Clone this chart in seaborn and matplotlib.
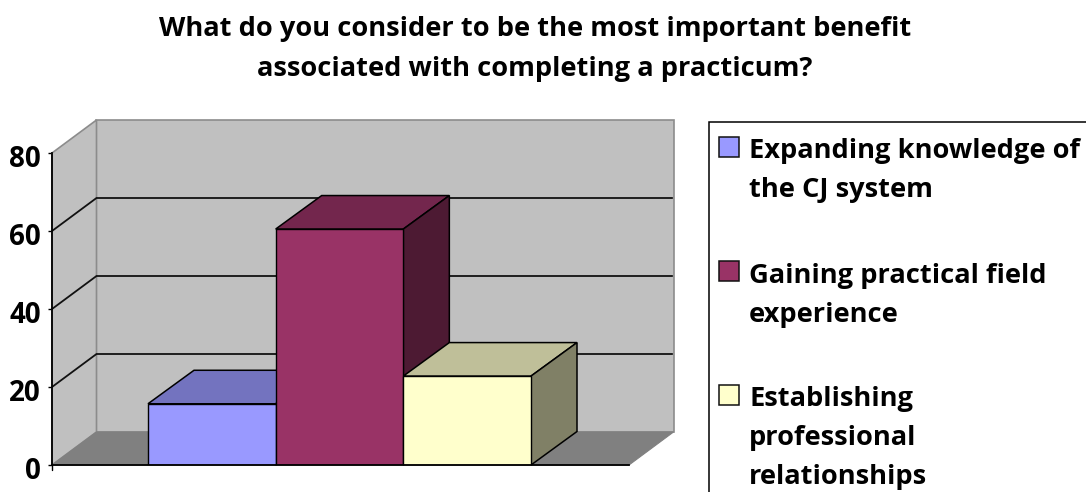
import numpy as np
import pandas as pd
import matplotlib
matplotlib.use("Agg")
import matplotlib.pyplot as plt
from matplotlib.patches import Polygon, Rectangle
from matplotlib.transforms import ScaledTranslation
from matplotlib.colors import to_rgb
import seaborn as sns

title_lines = ["What do you consider to be the most important benefit",
               "associated with completing a practicum?"]
categories = ["Expanding knowledge of\nthe CJ system",
              "Gaining practical field\nexperience",
              "Establishing\nprofessional\nrelationships"]
values = [15.7, 60.5, 22.8]
colors = ["#9999FF", "#993366", "#FFFFCC"]
y_ticks = [0, 20, 40, 60, 80]

W, H = 1086, 492
sns.set_theme(style="white")
FONT = ["Open Sans", "DejaVu Sans"]
plt.rcParams["font.family"] = FONT
plt.rcParams["font.weight"] = "bold"

fig = plt.figure(figsize=(W / 100, H / 100), dpi=100, facecolor="white")

def fx(x):
    return x / W
def fy(y):
    return 1 - y / H

ax = fig.add_axes([fx(52), fy(465), fx(629 - 52), (465 - 153) / H])
ax.patch.set_alpha(0)

df = pd.DataFrame({"category": categories, "value": values})
sns.barplot(data=df, x="category", y="value", hue="category",
            palette=colors, hue_order=categories, width=1.0, legend=False,
            edgecolor="black", linewidth=1.0, saturation=1, ax=ax, zorder=10)

unit = (531 - 148) / 3
x0 = -0.5 - (148 - 52) / unit
x1 = -0.5 + (629 - 148) / unit
ax.set_xlim(x0, x1)
ax.set_ylim(0, 80)
dx = 44.5 / unit
dy = 33 / 3.9
bar_dx = 46 / unit
bar_dy = 33.5 / 3.9

wall = "#C0C0C0"
edge = "#8C8C8C"
ax.add_patch(Polygon([(x0 + dx, dy), (x1 + dx, dy), (x1 + dx, 80 + dy), (x0 + dx, 80 + dy)],
                     fc=wall, ec=edge, lw=1.2, clip_on=False, zorder=1))
ax.add_patch(Polygon([(x0, 0), (x0 + dx, dy), (x0 + dx, 80 + dy), (x0, 80)],
                     fc=wall, ec=edge, lw=1.2, clip_on=False, zorder=1))
ax.add_patch(Polygon([(x0, 0), (x0 + dx, dy), (x1 + dx, dy), (x1, 0)],
                     fc="#808080", ec="#808080", lw=0.8, clip_on=False, zorder=2))

for t in y_ticks[1:-1]:
    ax.plot([x0, x0 + dx, x1 + dx - 0.01], [t, t + dy, t + dy], color="#111111", lw=1.3,
            clip_on=False, zorder=3, solid_joinstyle="miter")

bars = sorted([p for p in ax.patches if isinstance(p, Rectangle)], key=lambda p: p.get_x())
for i, bar in enumerate(bars):
    l, w, h = bar.get_x(), bar.get_width(), bar.get_height()
    c = np.array(to_rgb(colors[i]))
    z = 10 + i * 2
    bar.set_zorder(z + 1)
    ax.add_patch(Polygon([(l, h), (l + bar_dx, h + bar_dy), (l + w + bar_dx, h + bar_dy), (l + w, h)],
                         fc=c * 0.75, ec="black", lw=1.1, clip_on=False, zorder=z))
    ax.add_patch(Polygon([(l + w, 0), (l + w + bar_dx, bar_dy), (l + w + bar_dx, h + bar_dy), (l + w, h)],
                         fc=c * 0.5, ec="black", lw=1.1, clip_on=False, zorder=z))

for s in ["top", "right"]:
    ax.spines[s].set_visible(False)
for s in ["left", "bottom"]:
    ax.spines[s].set_visible(True)
    ax.spines[s].set_color("black")
    ax.spines[s].set_linewidth(1.3)
    ax.spines[s].set_zorder(30)
ax.set_xticks([])
ax.set_xlabel("")
ax.set_ylabel("")
ax.set_yticks(y_ticks)
ax.tick_params(axis="y", length=3, width=1.0, color="black", left=True, pad=5,
               labelsize=20, labelcolor="black")
shift = ScaledTranslation(0, -3 / 100, fig.dpi_scale_trans)
for lab in ax.get_yticklabels():
    lab.set_transform(lab.get_transform() + shift)
    lab.set_fontweight("bold")
    lab.set_family(FONT)
ax.plot([x0, x0], [0, -1.3], color="black", lw=1.0, clip_on=False, zorder=30)

for line, base in zip(title_lines, [36, 76]):
    fig.text(fx(535), fy(base), line, ha="center", va="baseline", fontsize=19.6,
             fontweight="bold", color="black", family=FONT)

fig.add_artist(Rectangle((fx(709), fy(530)), fx(500), (530 - 122) / H, fc="white", ec="black",
                         lw=1.1, transform=fig.transFigure))
swatch_tops = [137, 261, 385]
baselines = [158, 283, 406]
for lab, col, top, base in zip(categories, colors, swatch_tops, baselines):
    fig.add_artist(Rectangle((fx(719), fy(top + 20)), 20 / W, 20 / H, fc=col, ec="#111111",
                             lw=1.1, transform=fig.transFigure))
    for k, line in enumerate(lab.split("\n")):
        fig.text(fx(749), fy(base + 39 * k), line, ha="left", va="baseline", fontsize=19.6,
                 fontweight="bold", color="black", family=FONT)

fig.savefig("out.png", dpi=100, facecolor="white")
